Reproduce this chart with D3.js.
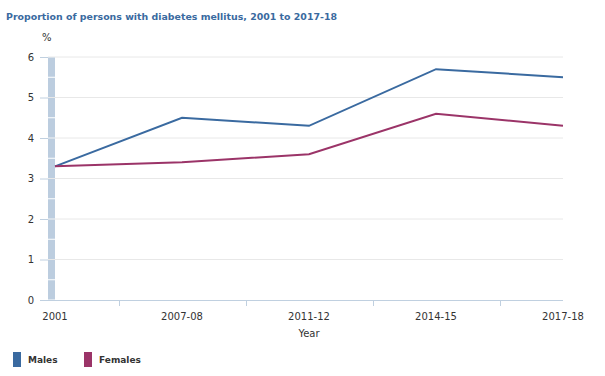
<!DOCTYPE html>
<html><head><meta charset="utf-8">
<script src="https://cdn.jsdelivr.net/npm/d3@7"></script>
<style>body{margin:0;background:#fff;}svg{display:block;font-family:"DejaVu Sans",Verdana,sans-serif;}</style>
</head><body>
<script>
const categories = ["2001","2007-08","2011-12","2014-15","2017-18"];
const males = [3.3, 4.5, 4.3, 5.7, 5.5];
const females = [3.3, 3.4, 3.6, 4.6, 4.3];
const yTicks = [0,1,2,3,4,5,6];
const seriesNames = ["Males","Females"];
const seriesColors = ["#3a6aa0","#9b3468"];

const W=605,H=376;
const svg=d3.select("body").append("svg").attr("width",W).attr("height",H);
const x=d3.scalePoint().domain(categories).range([55,563]);
const y=d3.scaleLinear().domain([0,6]).range([300,57]);

svg.append("text").attr("x",6).attr("y",20).attr("font-size",9.5).attr("font-weight","bold")
  .attr("textLength",331).attr("lengthAdjust","spacingAndGlyphs")
  .attr("fill","#3a6aa0").text("Proportion of persons with diabetes mellitus, 2001 to 2017-18");
svg.append("text").attr("x",42).attr("y",41).attr("font-size",10).attr("fill","#333").text("%");

// gridlines
svg.append("g").selectAll("line").data(yTicks.filter(d=>d>0)).join("line")
  .attr("x1",48).attr("x2",563).attr("y1",d=>y(d)).attr("y2",d=>y(d))
  .attr("stroke","#e8e8e8").attr("stroke-width",1);

// shaded first-category band segmented each 0.5
const segs=d3.range(0,6,0.5);
svg.append("g").selectAll("rect").data(segs).join("rect")
  .attr("x",48).attr("width",7)
  .attr("y",d=>y(d+0.5)+0.5).attr("height",d=>y(d)-y(d+0.5)-1)
  .attr("fill","#bccddf");

// y axis
const ya=svg.append("g").attr("transform","translate(48,0)")
  .call(d3.axisLeft(y).tickValues(yTicks).tickSize(8).tickPadding(6).tickFormat(d3.format("d")));
ya.select(".domain").remove();
ya.selectAll("line").attr("stroke","#c0d0e0");
ya.selectAll("text").attr("font-size",10).attr("fill","#333").attr("font-family","DejaVu Sans, Verdana, sans-serif");

// x axis
const step=x.step();
svg.append("line").attr("x1",40).attr("x2",563).attr("y1",300.5).attr("y2",300.5).attr("stroke","#c0d0e0");
svg.append("g").selectAll("line").data(categories.slice(0,-1)).join("line")
  .attr("x1",d=>Math.round(x(d)+step/2)+0.5).attr("x2",d=>Math.round(x(d)+step/2)+0.5)
  .attr("y1",300).attr("y2",306).attr("stroke","#c0d0e0");
svg.append("g").selectAll("text").data(categories).join("text")
  .attr("x",d=>x(d)).attr("y",320).attr("text-anchor","middle").attr("font-size",10).attr("fill","#333").text(d=>d);
svg.append("text").attr("x",309).attr("y",337).attr("text-anchor","middle").attr("font-size",10).attr("fill","#333").text("Year");

// lines
const line=d3.line().x((d,i)=>x(categories[i])).y(d=>y(d));
[males,females].forEach((s,i)=>{
  svg.append("path").datum(s).attr("d",line).attr("fill","none")
    .attr("stroke",seriesColors[i]).attr("stroke-width",2);
});

// legend
const lg=svg.append("g");
const lx=[13,84];
seriesNames.forEach((n,i)=>{
  lg.append("rect").attr("x",lx[i]).attr("y",352).attr("width",8).attr("height",15).attr("fill",seriesColors[i]);
  lg.append("text").attr("x",lx[i]+15).attr("y",363).attr("font-size",9).attr("font-weight","bold").attr("fill","#333").text(n);
});
</script>
</body></html>
